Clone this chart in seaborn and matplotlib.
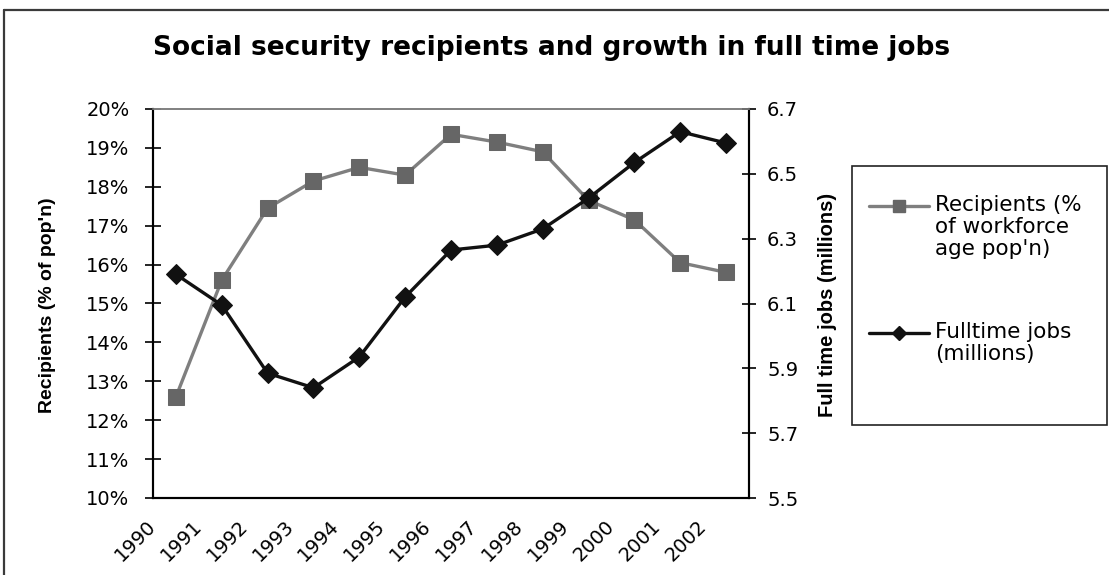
import numpy as np
import pandas as pd
import matplotlib
matplotlib.use("Agg")
import matplotlib.pyplot as plt
from matplotlib.lines import Line2D
from matplotlib.patches import Rectangle
from matplotlib.ticker import FixedLocator, FuncFormatter, MultipleLocator
import seaborn as sns

# ---- data -------------------------------------------------------------
years = ["1990", "1991", "1992", "1993", "1994", "1995", "1996",
         "1997", "1998", "1999", "2000", "2001", "2002"]
recipients_pct = [12.6, 15.6, 17.45, 18.15, 18.5, 18.3, 19.35,
                  19.15, 18.9, 17.65, 17.15, 16.05, 15.8]
fulltime_jobs_m = [6.19, 6.095, 5.885, 5.84, 5.935, 6.12, 6.265,
                   6.28, 6.33, 6.425, 6.535, 6.63, 6.595]

title = "Social security recipients and growth in full time jobs"
left_label = "Recipients (% of pop'n)"
right_label = "Full time jobs (millions)"
legend_labels = ["Recipients (%\nof workforce\nage pop'n)",
                 "Fulltime jobs\n(millions)"]

df = pd.DataFrame({"year": years,
                   "recipients": recipients_pct,
                   "jobs": fulltime_jobs_m})

# ---- styling ----------------------------------------------------------
sns.set_theme(style="white")
plt.rcParams["font.family"] = ["DejaVu Sans"]

W, H = 1109, 575
fig = plt.figure(figsize=(W / 100, H / 100), dpi=100)
fig.patch.set_facecolor("white")

ax = fig.add_axes([153 / W, 1 - 498 / H, (749 - 153) / W, (498 - 109) / H])
ax2 = ax.twinx()

grey_line = "#7f7f7f"
grey_mark = "#666666"
black = "#111111"

sns.lineplot(data=df, x="year", y="recipients", ax=ax, sort=False,
             color=grey_line, linewidth=2.4, marker="s", markersize=12,
             markerfacecolor=grey_mark, markeredgecolor=grey_mark,
             legend=False, zorder=3)
sns.lineplot(data=df, x="year", y="jobs", ax=ax2, sort=False,
             color=black, linewidth=2.4, marker="D", markersize=10,
             markerfacecolor=black, markeredgecolor=black,
             legend=False, zorder=3)

n = len(years)
ax.set_xlim(-0.5, n - 0.5)
ax.set_ylim(10, 20)
ax2.set_ylim(5.5, 6.7)

# category boundaries carry the year labels
ax.xaxis.set_major_locator(FixedLocator(np.arange(n + 1) - 0.5))
ax.set_xticklabels(years + [""], rotation=45, ha="right", va="center",
                   rotation_mode="anchor", fontsize=14)

ax.yaxis.set_major_locator(MultipleLocator(1))
ax.yaxis.set_major_formatter(FuncFormatter(lambda v, p: f"{v:.0f}%"))
ax2.yaxis.set_major_locator(FixedLocator(np.arange(5.5, 6.71, 0.2)))
ax2.yaxis.set_major_formatter(FuncFormatter(lambda v, p: f"{v:.1f}"))

ax.tick_params(axis="x", direction="inout", length=10, width=1.2,
               color="black", pad=13, labelcolor="black")
ax.tick_params(axis="y", direction="inout", length=12, width=1.2,
               color="black", pad=11, labelsize=14, labelcolor="black",
               left=True)
ax2.tick_params(axis="y", direction="inout", length=10, width=1.2,
                color="black", pad=8, labelsize=14, labelcolor="black",
                right=True)

for a in (ax, ax2):
    a.grid(False)
    a.set_xlabel("")
    for side in ("left", "right", "bottom"):
        a.spines[side].set_color("black")
        a.spines[side].set_linewidth(1.5)
    a.spines["top"].set_color("#808080")
    a.spines["top"].set_linewidth(1.2)

ax.set_ylabel(left_label, fontsize=14, fontweight="bold",
              family="Liberation Sans", color="black")
ax.yaxis.set_label_coords((56 - 153) / 596, 0.496)
ax2.set_ylabel(right_label, fontsize=14.5, fontweight="bold",
               family="Liberation Sans", color="black")
ax2.yaxis.set_label_coords((818 - 153) / 596, 0.496)

# ---- title ------------------------------------------------------------
fig.text(552 / W, 1 - 55 / H, title, ha="center", va="baseline",
         fontsize=19, fontweight="bold", color="black")

# ---- chart frame --------------------------------------------------------
frame_kw = dict(transform=fig.transFigure, color="#3a3a3a", lw=1.6)
fig.add_artist(Line2D([4 / W, 4 / W], [0, 1 - 10 / H], **frame_kw))
fig.add_artist(Line2D([4 / W, 1], [1 - 10 / H, 1 - 10 / H], **frame_kw))

# ---- legend -------------------------------------------------------------
fig.add_artist(Rectangle((852 / W, 1 - 425 / H), (1107 - 852) / W,
                         (425 - 166) / H, transform=fig.transFigure,
                         fill=False, edgecolor="#222222", lw=1.2))

entries = [
    (206, grey_line, grey_mark, "s", 8.5, legend_labels[0]),
    (333, black, black, "D", 7.5, legend_labels[1]),
]
for ypix, lc, mc, mk, ms, lab in entries:
    yf = 1 - ypix / H
    fig.add_artist(Line2D([869 / W, 899 / W, 929 / W], [yf, yf, yf],
                          transform=fig.transFigure, color=lc, lw=2.4,
                          marker=mk, markevery=[1], markersize=ms,
                          markerfacecolor=mc, markeredgecolor=mc))
    fig.text(935 / W, 1 - (ypix - 11) / H, lab, ha="left", va="top",
             fontsize=15.5, color="black", linespacing=1.12)

fig.savefig("out.png", dpi=100, facecolor="white")
